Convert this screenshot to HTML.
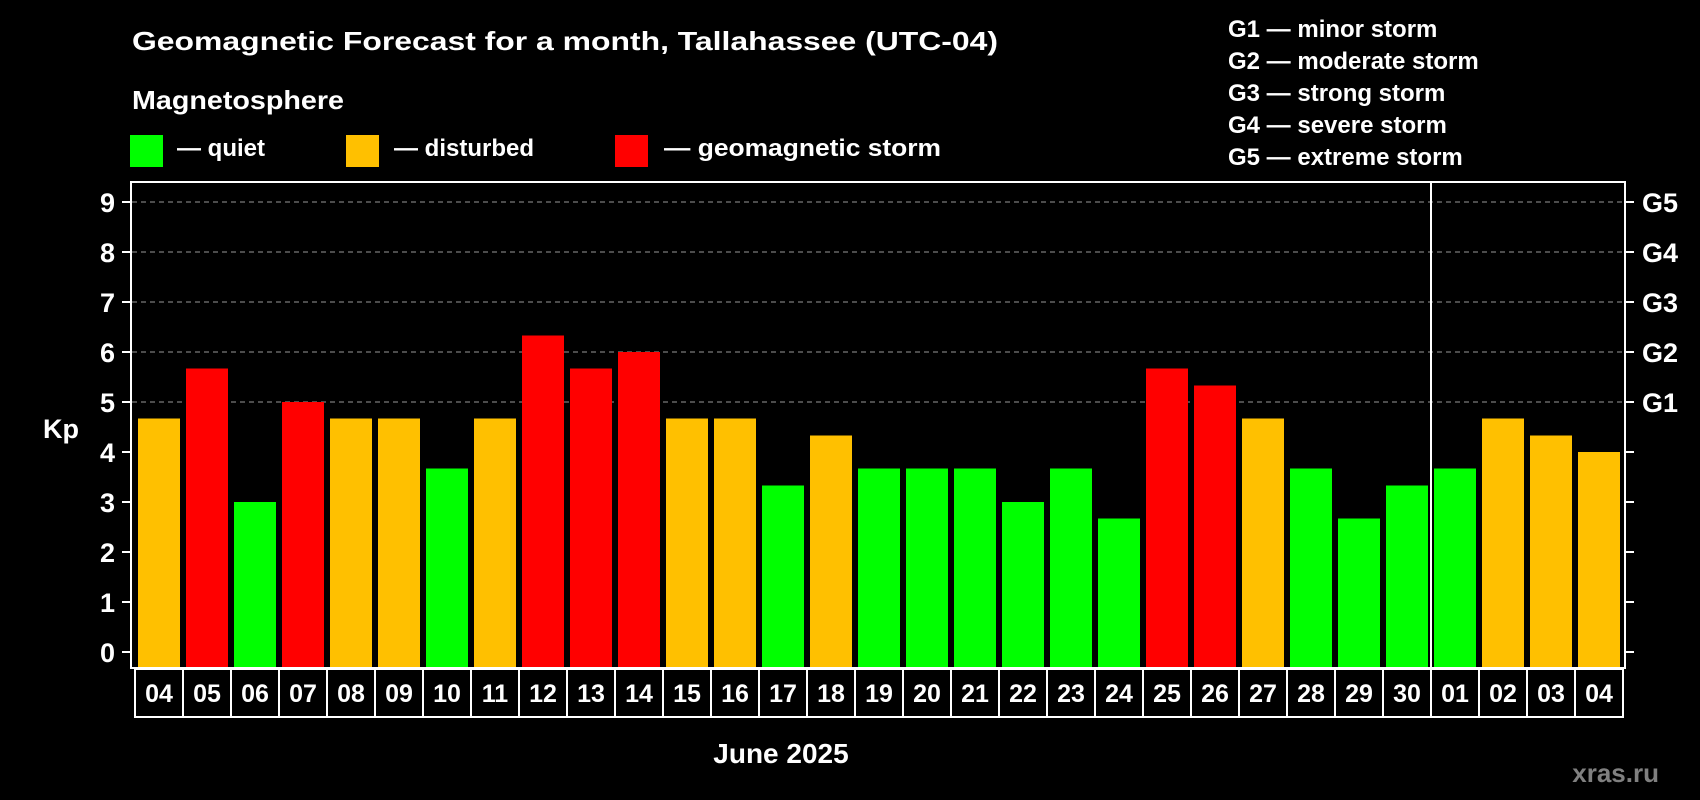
<!DOCTYPE html>
<html><head><meta charset="utf-8"><style>
html,body{margin:0;padding:0;background:#000;width:1700px;height:800px;overflow:hidden}
svg{display:block;font-family:"Liberation Sans",Arial,sans-serif;font-weight:bold}
</style></head><body>
<svg id="chart" width="1700" height="800" viewBox="0 0 1700 800">
<rect width="1700" height="800" fill="#000"/>
<text x="132" y="50" font-size="26" fill="#fff" textLength="866" lengthAdjust="spacingAndGlyphs">Geomagnetic Forecast for a month, Tallahassee (UTC-04)</text>
<text x="132" y="109" font-size="26" fill="#fff" textLength="212" lengthAdjust="spacingAndGlyphs">Magnetosphere</text>
<g>
<rect x="130" y="135" width="33" height="32" fill="#00ff00"/>
<text x="177" y="156" font-size="24" fill="#fff">— quiet</text></g>
<g>
<rect x="346" y="135" width="33" height="32" fill="#ffc000"/>
<text x="394" y="156" font-size="24" fill="#fff">— disturbed</text></g>
<g>
<rect x="615" y="135" width="33" height="32" fill="#ff0000"/>
<text x="664" y="156" font-size="24" fill="#fff" textLength="277" lengthAdjust="spacingAndGlyphs">— geomagnetic storm</text></g>
<g font-size="24" fill="#fff">
<text x="1228" y="37">G1 — minor storm</text>
<text x="1228" y="69">G2 — moderate storm</text>
<text x="1228" y="101">G3 — strong storm</text>
<text x="1228" y="133">G4 — severe storm</text>
<text x="1228" y="165">G5 — extreme storm</text>
</g>
<text x="43" y="438" font-size="27" fill="#fff">Kp</text>
<g id="grid"></g><g id="bars"></g><g id="ticks"></g><g id="xlabels"></g>
<rect x="131" y="182" width="1494" height="486" fill="none" stroke="#fff" stroke-width="2"/>
<line x1="1431" y1="182" x2="1431" y2="668" stroke="#fff" stroke-width="2"/>
<text x="781" y="763" font-size="28" fill="#fff" text-anchor="middle">June 2025</text>
<text x="1659" y="782" font-size="26" fill="#808080" text-anchor="end">xras.ru</text>
</svg>
<script>
const days = ["04","05","06","07","08","09","10","11","12","13","14","15","16","17","18","19","20","21","22","23","24","25","26","27","28","29","30","01","02","03","04"];
const kpValues = [4.67,5.67,3,5,4.67,4.67,3.67,4.67,6.33,5.67,6,4.67,4.67,3.33,4.33,3.67,3.67,3.67,3,3.67,2.67,5.67,5.33,4.67,3.67,2.67,3.33,3.67,4.67,4.33,4];
const yTicks = [0,1,2,3,4,5,6,7,8,9];
const gLabels = ["","","","","","G1","G2","G3","G4","G5"];
const NS = "http://www.w3.org/2000/svg";
const y = v => 652 - 50 * v;
const x = i => 138 + 48 * i;
function mk(tag, attrs, parent, txt){const e=document.createElementNS(NS,tag);for(const k in attrs)e.setAttribute(k,attrs[k]);if(txt!==undefined)e.textContent=txt;parent.appendChild(e);return e;}
const grid=document.getElementById('grid'),bars=document.getElementById('bars'),ticks=document.getElementById('ticks'),xl=document.getElementById('xlabels');
yTicks.forEach((t,i)=>{
  if(t>=5){const g=mk('line',{x1:132,x2:1624,y1:y(t),y2:y(t),stroke:'#999','stroke-width':1,'stroke-dasharray':'5,4'},grid);
    
    }
  const a=mk('line',{x1:122,x2:131,y1:y(t),y2:y(t),stroke:'#fff','stroke-width':2},ticks);
  
  
  const b=mk('line',{x1:1625,x2:1634,y1:y(t),y2:y(t),stroke:'#fff','stroke-width':2},ticks);
  
  
  const l=mk('text',{x:115,y:y(t)+10,'font-size':27,fill:'#fff','text-anchor':'end'},ticks,String(t));
  
  
  if(gLabels[i]){const g=mk('text',{x:1642,y:y(t)+10,'font-size':27,fill:'#fff'},ticks,gLabels[i]);
    
    }
});
kpValues.forEach((v,i)=>{
  const c=v<4?'#00ff00':(v<5?'#ffc000':'#ff0000');
  const r=mk('rect',{x:x(i),y:y(v),width:42,height:668-y(v),fill:c},bars);
  
  
  const cell=mk('rect',{x:135+48*i,y:669,width:48,height:48,fill:'none',stroke:'#fff','stroke-width':2},xl);
  
  
  const t=mk('text',{x:159+48*i,y:702,'font-size':25,fill:'#fff','text-anchor':'middle'},xl,days[i]);
  
  
});
</script>
</body></html>
